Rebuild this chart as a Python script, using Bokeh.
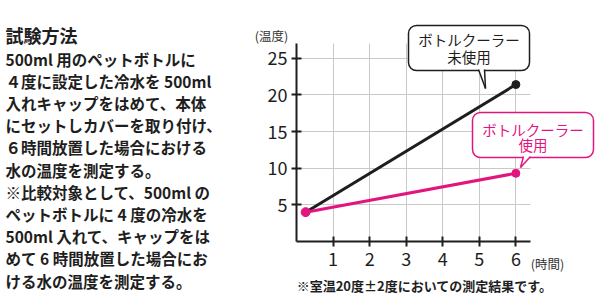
from bokeh.plotting import figure
from bokeh.models import Label, FixedTicker, Range1d, BoxAnnotation
from bokeh.embed import file_html
from bokeh.resources import INLINE

# ---- data ----
hours = [0.25, 6]
temp_without_cooler = [4, 21.4]
temp_with_cooler = [4, 9.3]
x_ticks = [1, 2, 3, 4, 5, 6]
y_ticks = [5, 10, 15, 20, 25]

title_text = "試験方法"
body_lines = [
    "500ml 用のペットボトルに",
    "４度に設定した冷水を 500ml",
    "入れキャップをはめて、本体",
    "にセットしカバーを取り付け、",
    "６時間放置した場合における",
    "水の温度を測定する。",
    "※比較対象として、500ml の",
    "ペットボトルに 4 度の冷水を",
    "500ml 入れて、キャップをは",
    "めて 6 時間放置した場合にお",
    "ける水の温度を測定する。",
]
label_without = ["ボトルクーラー", "未使用"]
label_with = ["ボトルクーラー", "使用"]
y_unit = "(温度)"
x_unit = "(時間)"
footnote = "※室温20度±2度においての測定結果です。"

# ---- layout (chart area inside the full canvas) ----
W, H = 600, 306
FL, FR, FT, FB = 296, 70, 43, 65          # chart area margins in px
X_END, Y_END = 6.4, 27
XS = (W - FL - FR) / X_END                # px per hour
YS = (H - FT - FB) / Y_END                # px per degree
PINK = "#E2157F"
INK = "#1e1e1e"
FONT = "Noto Sans CJK JP"

p = figure(width=W, height=H,
           x_range=Range1d(-FL / XS, (W - FL) / XS),
           y_range=Range1d(-FB / YS, (H - FB) / YS),
           output_backend="svg", toolbar_location=None, min_border=0)
p.title.visible = False
p.outline_line_color = None
p.background_fill_color = "white"
p.border_fill_color = "white"

for ax, ticks, end in ((p.xaxis, x_ticks, X_END), (p.yaxis, y_ticks, Y_END)):
    ax.fixed_location = 0
    ax.bounds = (0, end)
    ax.ticker = FixedTicker(ticks=ticks)
    ax.axis_line_width = 2
    ax.axis_line_color = INK
    ax.major_tick_line_width = 2
    ax.major_tick_line_color = INK
    ax.major_tick_in = 5
    ax.major_tick_out = 5
    ax.minor_tick_line_color = None
    ax.major_label_text_font = FONT
    ax.major_label_text_font_size = "18px"
    ax.major_label_text_color = INK
p.xaxis.major_label_standoff = 5
p.yaxis.major_label_standoff = 4

GRID = "#c9c9c9"
p.xgrid.ticker = FixedTicker(ticks=x_ticks)
p.ygrid.ticker = FixedTicker(ticks=y_ticks)
try:
    p.xgrid.bounds = (0, X_END)
    p.xgrid.cross_bounds = (0, Y_END)
    p.ygrid.bounds = (0, Y_END)
    p.ygrid.cross_bounds = (0, X_END)
    for g in (p.xgrid, p.ygrid):
        g.grid_line_color = GRID
        g.grid_line_width = 1
except AttributeError:
    for g in (p.xgrid, p.ygrid):
        g.grid_line_color = None
    p.segment(x_ticks, [0] * len(x_ticks), x_ticks, [Y_END] * len(x_ticks),
              line_color=GRID, line_width=1, level="underlay")
    p.segment([0] * len(y_ticks), y_ticks, [X_END] * len(y_ticks), y_ticks,
              line_color=GRID, line_width=1, level="underlay")

# ---- series ----
p.line(hours, temp_without_cooler, line_color=INK, line_width=3)
p.scatter(hours[1:], temp_without_cooler[1:], size=8, color=INK)
p.line(hours, temp_with_cooler, line_color=PINK, line_width=3)
p.scatter(hours, temp_with_cooler, size=[9, 8], color=PINK)


# ---- helpers ----
def dx(cx):
    return (cx - FL) / XS


def dy(cy):
    return (H - FB - cy) / YS


def label(text, cx, cy, size, bold=False, align="left", color=INK, **kw):
    p.add_layout(Label(x=cx, y=H - cy, x_units="screen", y_units="screen",
                       text=text, text_font=FONT, text_font_size=size,
                       text_font_style="bold" if bold else "normal",
                       text_align=align, text_baseline="middle", text_color=color, **kw))


# ---- left description ----
label(title_text, 5, 34, "18px", bold=True)
for i, line in enumerate(body_lines):
    label(line, 5, 58 + 22.2 * i, "15.5px", bold=True)

# ---- axis units and footnote ----
label(y_unit, 271, 35, "12.5px", align="center", color="#333333")
label(x_unit, 547, 263, "12.5px", align="center", color="#333333")
label(footnote, 424, 285, "13px", bold=True, align="center")


# ---- callouts ----
def callout(lines, left, right, top, bottom, line_ys, color, tail_l, tail_r, tip):
    p.add_layout(BoxAnnotation(left=left, right=right, top=H - top, bottom=H - bottom,
                               left_units="screen", right_units="screen",
                               top_units="screen", bottom_units="screen",
                               fill_color="white", fill_alpha=1.0,
                               line_color=color, line_alpha=1.0, line_width=1.5,
                               border_radius=8))
    cx = (left + right) / 2
    for t, y in zip(lines, line_ys):
        label(t, cx, y, "14.5px", align="center", color=color)
    # tail pointing from the box to the data point
    bx = [dx(tail_l), dx(tail_r), dx(tip[0])]
    by = [dy(bottom - 1.5), dy(bottom - 1.5), dy(tip[1])]
    p.patch(bx, by, fill_color="white", line_color=None, level="overlay")
    for bxx in (tail_l, tail_r):
        p.line([dx(bxx), dx(tip[0])], [dy(bottom - 1.0), dy(tip[1])], line_color=color,
               line_width=1.5, level="overlay")


callout(label_without, 408, 529, 25, 70, (39, 56), INK, 478, 484, (485, 88))
callout(label_with, 472, 593, 112, 157, (128.5, 144), PINK, 523, 530, (520, 167))

open("out.html", "w").write(file_html(p, INLINE))
